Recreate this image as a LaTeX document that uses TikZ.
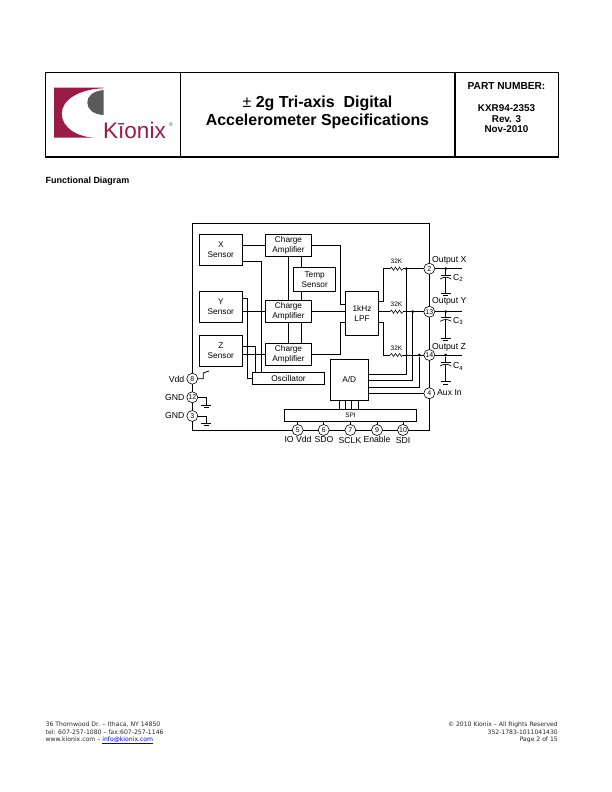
\documentclass[tikz,border=0pt]{standalone}
\usepackage{fontspec}
\setmainfont{Liberation Sans}
\newfontfamily\footfont{DejaVu Sans}
\definecolor{kcrimson}{HTML}{9B1B47}
\definecolor{kgrey}{HTML}{5A5A5A}
\definecolor{linkblue}{HTML}{0000EE}
\tikzset{
  wire/.style={line width=0.8bp,line join=miter},
  thinwire/.style={line width=0.55bp},
  blockbox/.style={draw,line width=0.85bp,fill=white,inner sep=0pt,outer sep=0pt,align=center,font=\fontsize{8.3}{9.6}\selectfont},
  pinc/.style={draw,circle,line width=0.6bp,fill=white,minimum size=11bp,inner sep=0pt,outer sep=0pt,font=\fontsize{7}{7}\selectfont},
  lab/.style={inner sep=0pt,font=\fontsize{8.7}{9}\selectfont},
  junction/.style={circle,fill=black,minimum size=3bp,inner sep=0pt},
  headrule/.style={line width=0.9bp},
  footl/.style={inner sep=0pt,anchor=west,font=\footfont\fontsize{6.15}{7}\selectfont,text=black!85},
  footr/.style={inner sep=0pt,anchor=east,font=\footfont\fontsize{6.1}{7}\selectfont,text=black!85},
  earth/.pic={
    \draw[line width=0.9bp] (-5,0) -- (5,0);
    \draw[line width=0.9bp] (-2.5,2.5) -- (2.5,2.5);
  },
  captop/.pic={
    \draw[line width=0.7bp] (-5,0) -- (5,0);
    \draw[line width=0.7bp] (-5.5,4) .. controls (-2,1.6) and (2,1.6) .. (5.5,4);
  },
  zigzag/.pic={
    \draw[thinwire] (0,0) -- (1.5,-1.6) -- (3.5,1.6) -- (5.5,-1.6) -- (7.5,1.6) -- (9.5,-1.6) -- (11.5,1.6) -- (13,0);
  }
}
\begin{document}
\begin{tikzpicture}[x=1bp,y=-1bp]
\useasboundingbox[fill=white] (0,0) rectangle (612,792);

% --- page header ---
\node[draw,headrule,minimum width=513bp,minimum height=85bp,inner sep=0pt,outer sep=0pt] (head) at (301.75,114.5) {};
\coordinate (divA) at (180.5,72);
\coordinate (divB) at (455,72);
\draw[headrule] (divA) -- (divA |- head.south);
\draw[line width=1.6bp] (divB) -- (divB |- head.south);
\draw[line width=1.6bp] (head.south west) -- (head.south east);

% --- logo ---
\fill[kcrimson] (54,87.7) -- (103.3,87.7) -- (103.3,88.2)
  .. controls (78,89.5) and (62,100) .. (61.7,113.5)
  .. controls (62,128) and (77,137) .. (95,137.7) -- (54,137.7) -- cycle;
\fill[kgrey] (103.7,90) .. controls (93,91) and (87.3,96) .. (87.3,102.5)
  .. controls (87.3,109) and (93,114.5) .. (103.7,115) -- cycle;
\node[inner sep=0pt,text=kcrimson,anchor=base west,font=\fontsize{22.6}{24}\selectfont] (brand) at (103,138) {Kīonix};
\node[inner sep=0pt,text=kgrey,font=\fontsize{5.5}{6}\selectfont] (regmark) at (171,124.5) {®};

% --- title and part number ---
\node[inner sep=0pt,align=center,font=\bfseries\fontsize{16}{18.4}\selectfont] (title) at (317.5,112.5) {{\mdseries ±} 2g Tri-axis\ \ Digital\\Accelerometer Specifications};
\node[inner sep=0pt,align=center,font=\bfseries\fontsize{10.2}{11}\selectfont] (partlabel) at (506.5,86.5) {PART NUMBER:};
\node[inner sep=0pt,align=center,font=\bfseries\fontsize{9.9}{10.6}\selectfont] (partdata) at (506.5,119) {KXR94-2353\\Rev. 3\\Nov-2010};
\node[inner sep=0pt,anchor=west,font=\bfseries\fontsize{9}{10}\selectfont] (section) at (45.5,181) {Functional Diagram};

% --- package outline ---
\node[draw,line width=0.85bp,minimum width=237bp,minimum height=206.7bp,inner sep=0pt,outer sep=0pt] (chip) at (310.8,326.65) {};

% --- functional blocks ---
\node[blockbox,minimum width=43bp,minimum height=31bp] (xs) at (220.8,249.8) {X\\Sensor};
\node[blockbox,minimum width=43bp,minimum height=31bp] (ys) at (220.8,306.8) {Y\\Sensor};
\node[blockbox,minimum width=43bp,minimum height=31bp] (zs) at (220.8,350.7) {Z\\Sensor};
\node[blockbox,minimum width=46.4bp,minimum height=22bp] (ca1) at (288.5,245.3) {Charge\\Amplifier};
\node[blockbox,minimum width=46.4bp,minimum height=22bp] (ca2) at (288.5,311.3) {Charge\\Amplifier};
\node[blockbox,minimum width=46.4bp,minimum height=22.4bp] (ca3) at (288.5,354.5) {Charge\\Amplifier};
\node[blockbox,minimum width=42bp,minimum height=24.4bp] (temp) at (314.7,279.5) {Temp\\Sensor};
\node[blockbox,minimum width=72.4bp,minimum height=12bp] (osc) at (288.5,378.3) {Oscillator};
\node[blockbox,minimum width=33.4bp,minimum height=44bp] (lpf) at (362,313.3) {1kHz\\LPF};
\node[blockbox,minimum width=37.7bp,minimum height=40.7bp] (ad) at (349.2,379.7) {A/D};
\node[blockbox,minimum width=132.4bp,minimum height=12bp,font=\fontsize{6.5}{7}\selectfont] (spi) at (350.5,415.3) {SPI};

% --- pins ---
\node[pinc] (p8) at (192.3,378.7) {8};
\node[pinc] (p12) at (192.3,397.3) {12};
\node[pinc] (p3) at (192.3,416) {3};
\node[pinc] (p2) at (429.3,268.7) {2};
\node[pinc] (p13) at (429.3,311.7) {13};
\node[pinc] (p14) at (429.3,355) {14};
\node[pinc] (p4) at (429.3,393.3) {4};
\node[pinc] (p5) at (297.7,430) {5};
\node[pinc] (p6) at (323.7,430) {6};
\node[pinc] (p7) at (350.3,430) {7};
\node[pinc] (p9) at (377,430) {9};
\node[pinc] (p10) at (403,430) {10};

% --- pin labels ---
\node[lab,anchor=east] (lvdd) at (184.5,379) {Vdd};
\node[lab,anchor=east] (lg1) at (184.5,397.3) {GND};
\node[lab,anchor=east] (lg2) at (184.5,416) {GND};
\node[lab,anchor=west] (loutx) at (432,260) {Output X};
\node[lab,anchor=west] (louty) at (432,301.3) {Output Y};
\node[lab,anchor=west] (loutz) at (432,347) {Output Z};
\node[lab,anchor=west] (laux) at (437,392.3) {Aux In};
\node[lab] (lio) at (298,439.3) {IO Vdd};
\node[lab] (lsdo) at (324,439.3) {SDO};
\node[lab] (lsclk) at (350,440.3) {SCLK};
\node[lab] (len) at (377,439) {Enable};
\node[lab] (lsdi) at (403,441) {SDI};

% --- sensor to amplifier and oscillator wiring ---
\coordinate (busA) at (247.3,298.3);
\coordinate (busB) at (261.3,261.3);
\coordinate (busC) at (255.3,346.7);
\draw[wire] (xs.east |- ca1.west) -- (ca1.west);
\draw[wire] (ys.east |- ca2.west) -- (ca2.west);
\draw[wire] (zs.east |- ca3.west) -- (ca3.west);
\draw[wire] (xs.east |- busB) -- (busB) -- (busB |- osc.north);
\draw[wire] (ys.east |- busA) -- (busA) |- (osc.west);
\draw[wire] (zs.east |- busC) -- (busC) -- (busC |- osc.north);

% --- amplifier chain ---
\coordinate (chainL) at (288.3,300);
\coordinate (chainR) at (301.3,300);
\draw[wire] (chainL |- ca1.south) -- (chainL |- ca2.north);
\draw[wire] (chainL |- ca2.south) -- (chainL |- ca3.north);
\draw[wire] (chainR |- ca1.south) -- (chainR |- temp.north);
\draw[wire] (chainR |- temp.south) -- (chainR |- ca2.north);
\draw[wire] (chainR |- ca2.south) -- (chainR |- ca3.north);

% --- amplifiers into the filter ---
\coordinate (feed) at (340.7,304.3);
\coordinate (feedB) at (340.7,322.3);
\draw[wire] (ca1.east) -- (feed |- ca1.east) -- (feed) -- (lpf.west |- feed);
\draw[wire] (ca2.east |- lpf.west) ++(0,-1.6) -- (345.3,311.7);
\draw[wire] (ca3.east) -- (feedB |- ca3.east) -- (feedB) -- (lpf.west |- feedB);

% --- filter outputs through 32K resistors ---
\coordinate (rise) at (383.3,301.3);
\coordinate (fall) at (383.3,322.3);
\coordinate (r1a) at (390,268.7);
\coordinate (r1b) at (403,268.7);
\coordinate (r2a) at (390,311.7);
\coordinate (r2b) at (403,311.7);
\coordinate (r3a) at (390,355);
\coordinate (r3b) at (403,355);
\pic at (r1a) {zigzag};
\pic at (r2a) {zigzag};
\pic at (r3a) {zigzag};
\node[inner sep=0pt,font=\fontsize{6.5}{7}\selectfont] (r1t) at (396.5,261.7) {32K};
\node[inner sep=0pt,font=\fontsize{6.5}{7}\selectfont] (r2t) at (396.5,304.5) {32K};
\node[inner sep=0pt,font=\fontsize{6.5}{7}\selectfont] (r3t) at (396.5,348.3) {32K};
\draw[wire] (lpf.east |- rise) -- (rise) |- (r1a);
\draw[wire] (lpf.east |- r2a) -- (r2a);
\draw[wire] (lpf.east |- fall) -- (fall) |- (r3a);
\draw[wire] (r1b) -- (p2.west);
\draw[wire] (r2b) -- (p13.west);
\draw[wire] (r3b) -- (p14.west);

% --- feedback into the converter ---
\node[junction] (j1) at (406.3,268.7) {};
\node[junction] (j2) at (412.7,311.7) {};
\node[junction] (j3) at (419.3,355) {};
\draw[wire] (j1) |- (ad.east |- 0,374.3);
\draw[wire] (j2) |- (ad.east |- 0,380.7);
\draw[wire] (j3) |- (ad.east |- 0,387);
\draw[wire] (ad.east |- p4.west) -- (p4.west);

% --- converter to SPI ---
\foreach \busx in {339.3,345,351.7,358.3}
  \draw[wire] (\busx,399.9) -- (\busx,409.4);

% --- SPI pins ---
\draw[wire] (p5.north) -- (p5.north |- spi.south);
\draw[wire] (p6.north) -- (p6.north |- spi.south);
\draw[wire] (p7.north) -- (p7.north |- spi.south);
\draw[wire] (p9.north) -- (p9.north |- spi.south);
\draw[wire] (p10.north) -- (p10.north |- spi.south);

% --- supply pins ---
\coordinate (vddA) at (203.3,378.7);
\coordinate (vddB) at (203.3,373);
\coordinate (vddC) at (209,371);
\draw[wire] (p8.east) -- (vddA) -- (vddB) -- (vddC);
\coordinate (gA) at (206,405);
\coordinate (gB) at (206,423.3);
\draw[wire] (p12.east) -| (gA);
\draw[wire] (p3.east) -| (gB);
\pic at (gA) {earth};
\pic at (gB) {earth};

% --- output filter capacitors ---
\coordinate (o1) at (461.7,268.7);
\coordinate (o2) at (461.7,311.7);
\coordinate (o3) at (461.7,355);
\node[junction] (d1) at (445.7,268.7) {};
\node[junction] (d2) at (445.7,311.7) {};
\node[junction] (d3) at (445.7,355) {};
\draw[wire] (p2.east) -- (o1);
\draw[wire] (p13.east) -- (o2);
\draw[wire] (p14.east) -- (o3);
\coordinate (c1t) at (445.7,275);
\coordinate (c2t) at (445.7,317.3);
\coordinate (c3t) at (445.7,362);
\coordinate (c1g) at (445.7,293);
\coordinate (c2g) at (445.7,338);
\coordinate (c3g) at (445.7,381.7);
\draw[wire] (d1) -- (c1t);
\draw[wire] (d2) -- (c2t);
\draw[wire] (d3) -- (c3t);
\draw[wire] (445.7,277) -- (c1g);
\draw[wire] (445.7,319.3) -- (c2g);
\draw[wire] (445.7,364) -- (c3g);
\pic at (c1t) {captop};
\pic at (c2t) {captop};
\pic at (c3t) {captop};
\pic at (c1g) {earth};
\pic at (c2g) {earth};
\pic at (c3g) {earth};
\node[lab,anchor=west] (lc2) at (453,278.3) {C\textsubscript{2}};
\node[lab,anchor=west] (lc3) at (453,321.3) {C\textsubscript{3}};
\node[lab,anchor=west] (lc4) at (453,366.5) {C\textsubscript{4}};

% --- page footer ---
\node[footl] (fl1) at (45.5,725) {36 Thornwood Dr. – Ithaca, NY 14850};
\node[footl] (fl2) at (45.5,732.4) {tel: 607-257-1080 – fax:607-257-1146};
\node[footl] (fl3) at (45.5,740) {www.kionix.com – \textcolor{linkblue}{info@kionix.com}};
\draw[linkblue,line width=0.4bp] (102,743) -- (153,743);
\node[footr] (fr1) at (558,725) {© 2010 Kionix – All Rights Reserved};
\node[footr] (fr2) at (558,732.4) {352-1783-1011041430};
\node[footr] (fr3) at (558,740) {Page 2 of 15};
\end{tikzpicture}
\end{document}
